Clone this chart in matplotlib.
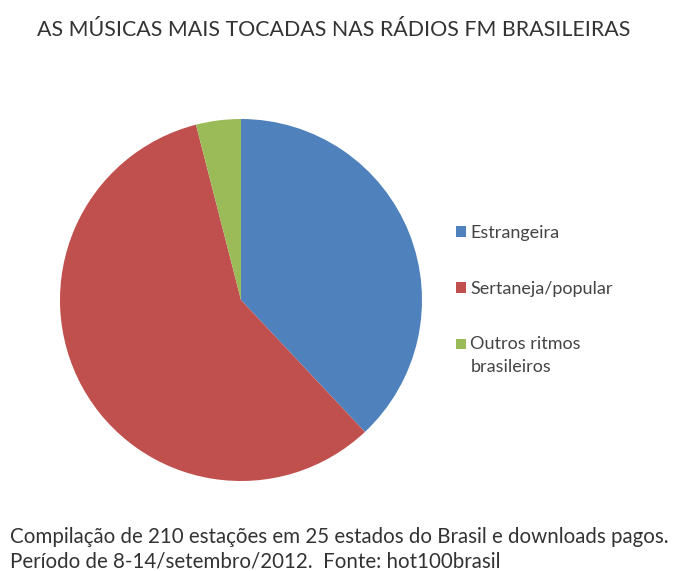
import matplotlib.pyplot as plt

categorias = ['Estrangeira', 'Sertaneja/popular', 'Outros ritmos\nbrasileiros']
valores = [38, 58, 4]
cores = ['#4F81BD', '#C0504D', '#9BBB59']

plt.rcParams['font.family'] = ['Lato', 'DejaVu Sans']

fig = plt.figure(figsize=(6.78, 5.71), dpi=100)
ax = fig.add_axes([241 / 678 - 181 / 678, (571 - 481) / 571, 362 / 678, 362 / 571])

fatias, _ = ax.pie(valores, colors=cores, startangle=90, counterclock=False,
                   radius=1, wedgeprops={'linewidth': 0})
ax.set_xlim(-1, 1)
ax.set_ylim(-1, 1)
ax.set_aspect('equal')

fig.text(334 / 678, 1 - 30 / 571, 'AS MÚSICAS MAIS TOCADAS NAS RÁDIOS FM BRASILEIRAS',
         ha='center', va='center', fontsize=15.4, color='#333333')

leg = fig.legend(fatias, categorias, loc='upper left', bbox_to_anchor=(456 / 678, 1 - 225 / 571),
                 frameon=False, fontsize=13, handlelength=0.55, handleheight=0.55,
                 handletextpad=0.25, labelspacing=2.2, borderpad=0, borderaxespad=0,
                 labelcolor='#444444')
leg.get_texts()[2].set_linespacing(1.5)
# the marker of the two-line entry sits on its first line
h = leg.legend_handles[2]
h.set_y(h.get_y() + 8.5)

fig.text(10 / 678, 1 - 537 / 571,
         'Compilação de 210 estações em 25 estados do Brasil e downloads pagos.',
         ha='left', va='center', fontsize=14.8, color='#333333')
fig.text(10 / 678, 1 - 561 / 571,
         'Período de 8-14/setembro/2012.  Fonte: hot100brasil',
         ha='left', va='center', fontsize=14.8, color='#333333')

fig.savefig('out.png', dpi=100)
